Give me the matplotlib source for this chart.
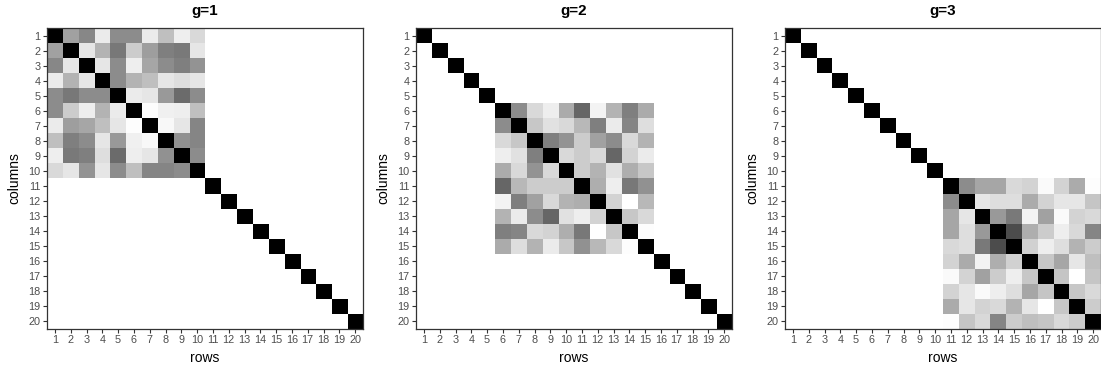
import numpy as np
import matplotlib.pyplot as plt

plt.rcParams['font.family'] = ['Liberation Sans', 'DejaVu Sans']

n = 20
ticks = list(range(1, n + 1))
titles = ['g=1', 'g=2', 'g=3']
block_starts = [1, 6, 11]

# each 10x10 block (symmetric), 1 = black
block_g1 = [
    [1, .37, .47, .08, .45, .45, .08, .25, .07, .15],
    [.37, 1, .10, .30, .53, .20, .38, .50, .52, .10],
    [.47, .10, 1, .10, .45, .07, .35, .45, .50, .42],
    [.08, .30, .10, 1, .45, .30, .25, .10, .13, .10],
    [.45, .53, .45, .45, 1, .08, .10, .40, .58, .45],
    [.45, .20, .07, .30, .08, 1, .01, .06, .07, .25],
    [.08, .38, .35, .25, .10, .01, 1, .03, .10, .48],
    [.25, .50, .45, .10, .40, .06, .03, 1, .43, .48],
    [.07, .52, .50, .13, .58, .07, .10, .43, 1, .45],
    [.15, .10, .42, .10, .45, .25, .48, .48, .45, 1],
]
block_g2 = [
    [1, .45, .15, .07, .33, .60, .05, .30, .50, .33],
    [.45, 1, .22, .12, .15, .28, .50, .08, .48, .13],
    [.15, .22, 1, .50, .42, .20, .37, .45, .15, .30],
    [.07, .12, .50, 1, .15, .20, .15, .60, .17, .08],
    [.33, .15, .42, .15, 1, .20, .30, .12, .32, .22],
    [.60, .28, .20, .20, .20, 1, .32, .07, .53, .43],
    [.05, .50, .37, .15, .30, .32, 1, .17, .00, .28],
    [.30, .08, .45, .60, .12, .07, .17, 1, .22, .15],
    [.50, .48, .15, .17, .32, .53, .00, .22, 1, .01],
    [.33, .13, .30, .08, .22, .43, .28, .15, .01, 1],
]
block_g3 = [
    [1, .45, .35, .35, .15, .17, .02, .17, .33, .01],
    [.45, 1, .10, .13, .13, .33, .17, .10, .10, .23],
    [.35, .10, 1, .40, .52, .05, .37, .02, .17, .15],
    [.35, .13, .40, 1, .70, .32, .20, .07, .15, .48],
    [.15, .13, .52, .70, 1, .18, .07, .13, .30, .20],
    [.17, .33, .05, .32, .18, 1, .22, .35, .10, .25],
    [.02, .17, .37, .20, .07, .22, 1, .23, .00, .23],
    [.17, .10, .02, .07, .13, .35, .23, 1, .22, .15],
    [.33, .10, .17, .15, .30, .10, .00, .22, 1, .20],
    [.01, .23, .15, .48, .20, .25, .23, .15, .20, 1],
]
blocks = [block_g1, block_g2, block_g3]

fig = plt.figure(figsize=(11.01, 3.71), dpi=100)
lefts = [47, 416, 785]
W, H = 1101, 371
for k in range(3):
    m = np.eye(n)
    s = block_starts[k] - 1
    m[s:s + 10, s:s + 10] = np.array(blocks[k])
    ax = fig.add_axes([lefts[k] / W, 42 / H, 316 / W, 301 / H])
    ax.imshow(m, cmap='gray_r', vmin=0, vmax=1, aspect='auto',
              extent=[0.5, n + 0.5, n + 0.5, 0.5], interpolation='nearest')
    ax.set_xticks(ticks)
    ax.set_yticks(ticks)
    ax.set_xticklabels(ticks)
    ax.set_yticklabels(ticks)
    ax.tick_params(labelsize=7.8, labelcolor='#4D4D4D', length=3, width=0.8,
                   pad=1.5, color='#333333')
    for sp in ax.spines.values():
        sp.set_linewidth(0.9)
        sp.set_color('#333333')
    ax.set_xlabel('rows', fontsize=10, labelpad=4)
    ax.set_ylabel('columns', fontsize=10, labelpad=5)
    ax.set_title(titles[k], fontsize=11, fontweight='bold', pad=9)

fig.savefig('out.png', dpi=100)
